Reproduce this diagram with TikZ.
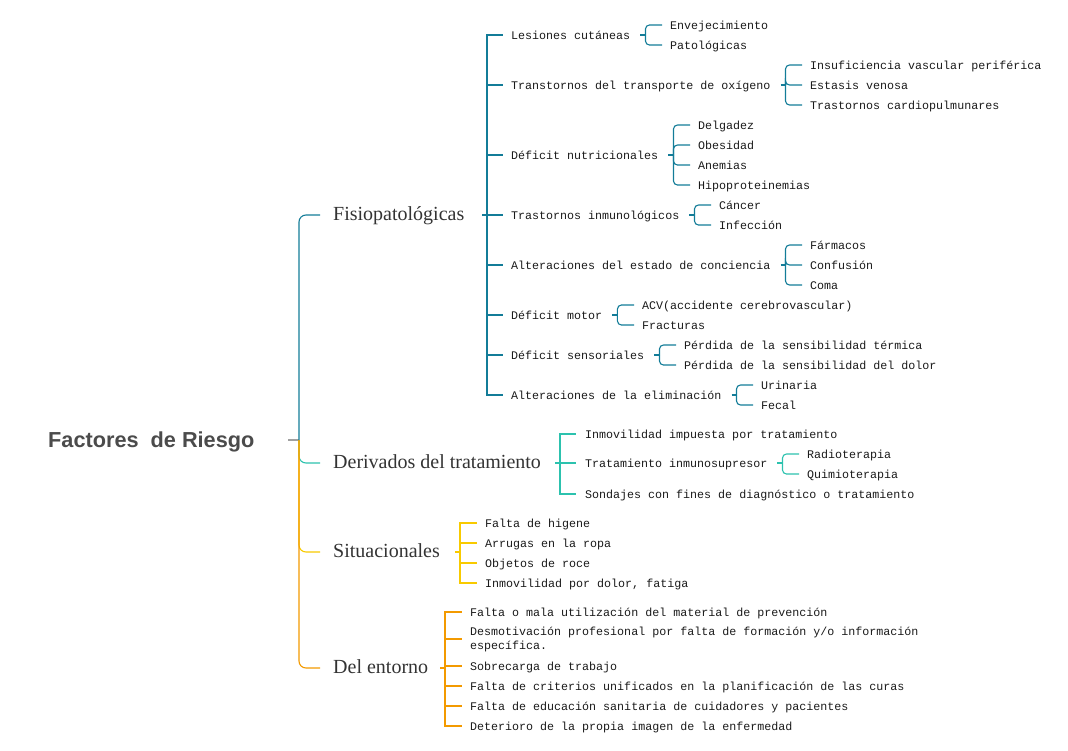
\documentclass[tikz,border=0pt]{standalone}
\usepackage{fontspec}
\setmainfont{Liberation Serif}
\newfontfamily\monof{Liberation Mono}
\newfontfamily\rootf{Liberation Sans}
\usetikzlibrary{calc}
\definecolor{cA}{HTML}{137C98}
\definecolor{cB}{HTML}{2CC2AE}
\definecolor{cC}{HTML}{F8CA00}
\definecolor{cD}{HTML}{F39A00}
\definecolor{cG}{HTML}{A0A0A0}
\definecolor{rootc}{HTML}{4B4B4B}
\definecolor{lvc}{HTML}{333333}
\definecolor{leafc}{HTML}{1A1A1A}
\newcommand\mybrk[3]{%
  \draw[ln,#2] ([xshift=10pt]#1.east) -- ([xshift=15pt]#1.east);
  \foreach \c in {#3}{\draw[brace,#2] ([xshift=15pt]#1.east) |- ([xshift=-8pt]\c.west);}%
}
\begin{document}
\begin{tikzpicture}[x=1pt,y=-1pt,
  leaf/.style={anchor=west,inner sep=0pt,font=\monof\fontsize{11.67}{14}\selectfont,text=leafc,text height=8.5pt,text depth=0.5pt},
  leafml/.style={anchor=west,inner sep=0pt,font=\monof\fontsize{11.67}{14}\selectfont,text=leafc,align=left},
  lvl1/.style={anchor=west,inner sep=0pt,font=\fontsize{20}{24}\selectfont,text=lvc,text height=13pt,text depth=3pt},
  rootn/.style={anchor=west,inner sep=0pt,font=\rootf\bfseries\fontsize{21.7}{26}\selectfont,text=rootc,text height=15.5pt,text depth=0pt},
  ln/.style={line width=1.1pt},
  brace/.style={ln,rounded corners=4pt}]
\useasboundingbox (0,0) rectangle (1068,750);

% root and level 1
\node[rootn] (root) at (48,440) {Factores\ \ de Riesgo};
\coordinate (rt) at (288,440);
\coordinate (rs) at (299,440);
\node[lvl1] (F) at (333,215) {Fisiopatológicas};
\node[lvl1] (D) at (333,463) {Derivados del tratamiento};
\node[lvl1] (S) at (333,552) {Situacionales};
\node[lvl1] (E) at (333,668) {Del entorno};

\draw[ln,cG] (rt) -- (rs);
\draw[ln,cB,rounded corners=7pt] (rs) |- ([xshift=-13pt]D.west);
\draw[ln,cC,rounded corners=7pt] (rs) |- ([xshift=-13pt]S.west);
\draw[ln,cD,rounded corners=7pt] (rs) |- ([xshift=-13pt]E.west);
\draw[ln,cA,rounded corners=7pt] (rs) |- ([xshift=-13pt]F.west);

% Fisiopatologicas
\node[leaf] (a1) at (511,35) {Lesiones cutáneas};
\node[leaf] (a2) at (511,85) {Transtornos del transporte de oxígeno};
\node[leaf] (a3) at (511,155) {Déficit nutricionales};
\node[leaf] (a4) at (511,215) {Trastornos inmunológicos};
\node[leaf] (a5) at (511,265) {Alteraciones del estado de conciencia};
\node[leaf] (a6) at (511,315) {Déficit motor};
\node[leaf] (a7) at (511,355) {Déficit sensoriales};
\node[leaf] (a8) at (511,395) {Alteraciones de la eliminación};
\coordinate (fs) at (487,215);
\coordinate (ft) at (482,215);
\draw[ln,cA] (ft) -- (fs);
\foreach \n in {a1,a2,a3,a4,a5,a6,a7,a8}{\draw[ln,cA] (fs) |- ([xshift=-8pt]\n.west);}

\node[leaf] (a1a) at (670,25) {Envejecimiento};
\node[leaf] (a1b) at (670,45) {Patológicas};
\mybrk{a1}{cA}{a1a,a1b}

\node[leaf] (a2a) at (810,65) {Insuficiencia vascular periférica};
\node[leaf] (a2b) at (810,85) {Estasis venosa};
\node[leaf] (a2c) at (810,105) {Trastornos cardiopulmunares};
\mybrk{a2}{cA}{a2a,a2b,a2c}

\node[leaf] (a3a) at (698,125) {Delgadez};
\node[leaf] (a3b) at (698,145) {Obesidad};
\node[leaf] (a3c) at (698,165) {Anemias};
\node[leaf] (a3d) at (698,185) {Hipoproteinemias};
\mybrk{a3}{cA}{a3a,a3b,a3c,a3d}

\node[leaf] (a4a) at (719,205) {Cáncer};
\node[leaf] (a4b) at (719,225) {Infección};
\mybrk{a4}{cA}{a4a,a4b}

\node[leaf] (a5a) at (810,245) {Fármacos};
\node[leaf] (a5b) at (810,265) {Confusión};
\node[leaf] (a5c) at (810,285) {Coma};
\mybrk{a5}{cA}{a5a,a5b,a5c}

\node[leaf] (a6a) at (642,305) {ACV(accidente cerebrovascular)};
\node[leaf] (a6b) at (642,325) {Fracturas};
\mybrk{a6}{cA}{a6a,a6b}

\node[leaf] (a7a) at (684,345) {Pérdida de la sensibilidad térmica};
\node[leaf] (a7b) at (684,365) {Pérdida de la sensibilidad del dolor};
\mybrk{a7}{cA}{a7a,a7b}

\node[leaf] (a8a) at (761,385) {Urinaria};
\node[leaf] (a8b) at (761,405) {Fecal};
\mybrk{a8}{cA}{a8a,a8b}

% Derivados del tratamiento
\node[leaf] (b1) at (585,434) {Inmovilidad impuesta por tratamiento};
\node[leaf] (b2) at (585,463) {Tratamiento inmunosupresor};
\node[leaf] (b3) at (585,494) {Sondajes con fines de diagnóstico o tratamiento};
\coordinate (ds) at (560,463);
\coordinate (dt) at (555,463);
\draw[ln,cB] (dt) -- (ds);
\foreach \n in {b1,b2,b3}{\draw[ln,cB] (ds) |- ([xshift=-9pt]\n.west);}
\node[leaf] (b2a) at (807,454) {Radioterapia};
\node[leaf] (b2b) at (807,474) {Quimioterapia};
\mybrk{b2}{cB}{b2a,b2b}

% Situacionales
\node[leaf] (s1) at (485,523) {Falta de higene};
\node[leaf] (s2) at (485,543) {Arrugas en la ropa};
\node[leaf] (s3) at (485,563) {Objetos de roce};
\node[leaf] (s4) at (485,583) {Inmovilidad por dolor, fatiga};
\coordinate (ss) at (460,552);
\coordinate (st) at (455,552);
\draw[ln,cC] (st) -- (ss);
\foreach \n in {s1,s2,s3,s4}{\draw[ln,cC] (ss) |- ([xshift=-8pt]\n.west);}

% Del entorno
\node[leaf] (e1) at (470,612) {Falta o mala utilización del material de prevención};
\node[leafml] (e2) at (470,639) {Desmotivación profesional por falta de formación y/o información\\específica.};
\node[leaf] (e3) at (470,666) {Sobrecarga de trabajo};
\node[leaf] (e4) at (470,686) {Falta de criterios unificados en la planificación de las curas};
\node[leaf] (e5) at (470,706) {Falta de educación sanitaria de cuidadores y pacientes};
\node[leaf] (e6) at (470,726) {Deterioro de la propia imagen de la enfermedad};
\coordinate (es) at (445,668);
\coordinate (et) at (440,668);
\draw[ln,cD] (et) -- (es);
\foreach \n in {e1,e2,e3,e4,e5,e6}{\draw[ln,cD] (es) |- ([xshift=-8pt]\n.west);}
\end{tikzpicture}
\end{document}
